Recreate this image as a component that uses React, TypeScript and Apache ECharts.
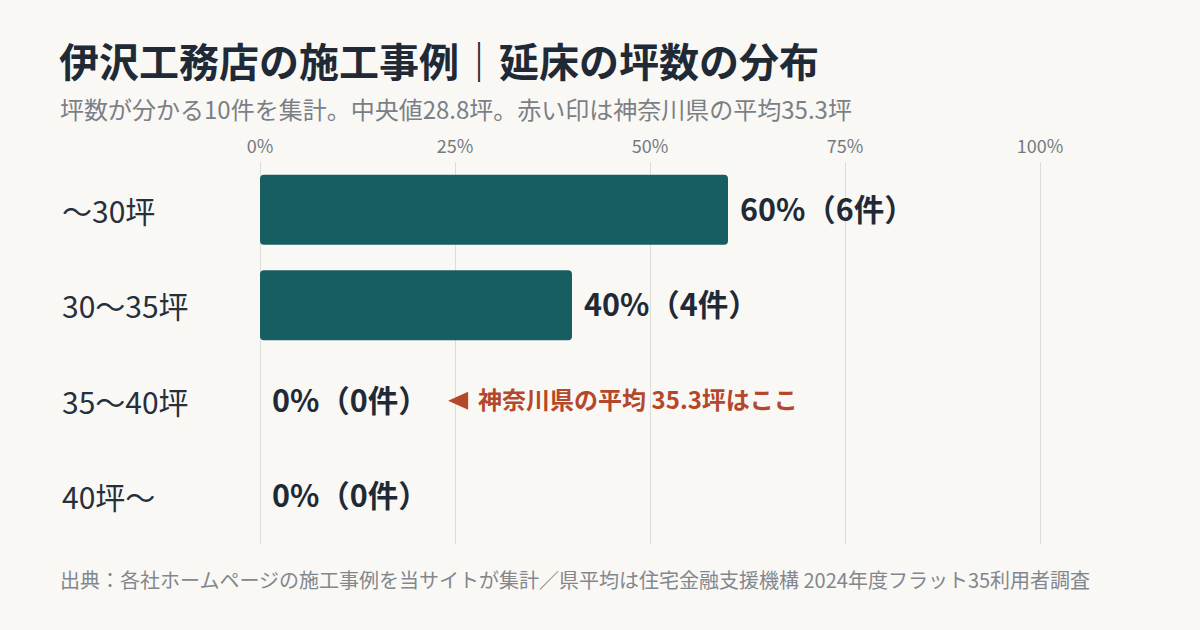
import React, { useEffect, useRef } from "react";
import * as echarts from "echarts";

const categories = ["〜30坪", "30〜35坪", "35〜40坪", "40坪〜"];
const percents = [60, 40, 0, 0];
const counts = [6, 4, 0, 0];
const xTicks = [0, 25, 50, 75, 100];

const titleText = "伊沢工務店の施工事例｜延床の坪数の分布";
const subtitleText = "坪数が分かる10件を集計。中央値28.8坪。赤い印は神奈川県の平均35.3坪";
const footnoteText =
  "出典：各社ホームページの施工事例を当サイトが集計／県平均は住宅金融支援機構 2024年度フラット35利用者調査";

const markerCategory = "35〜40坪";
const markerX = 25.4;
const markerText = "神奈川県の平均 35.3坪はここ";

const FONT = '"Noto Sans CJK JP", "Noto Sans", sans-serif';

export default function App() {
  const ref = useRef<HTMLDivElement>(null);

  useEffect(() => {
    document.body.style.margin = "0";
    if (!ref.current) return;
    const chart = echarts.init(ref.current, undefined, { renderer: "svg" });
    chart.setOption({
      animation: false,
      backgroundColor: "#f9f8f5",
      textStyle: { fontFamily: FONT },
      title: [
        {
          text: titleText,
          left: 54,
          top: 35,
          textStyle: { fontSize: 40, fontWeight: "bold", color: "#1f2a36", fontFamily: FONT },
        },
        {
          text: subtitleText,
          left: 55,
          top: 91,
          textStyle: { fontSize: 24, fontWeight: "normal", color: "#7b7f86", fontFamily: FONT },
        },
        {
          text: footnoteText,
          left: 55,
          top: 564,
          textStyle: { fontSize: 20, fontWeight: "normal", color: "#83878d", fontFamily: FONT },
        },
      ],
      grid: { left: 260, right: 160, top: 162, bottom: 86, containLabel: false },
      xAxis: {
        type: "value",
        position: "top",
        min: xTicks[0],
        max: xTicks[xTicks.length - 1],
        interval: 25,
        axisLine: { show: false },
        axisTick: { show: false },
        axisLabel: {
          formatter: "{value}%",
          color: "#757a82",
          fontSize: 18,
          margin: 8,
          fontFamily: FONT,
        },
        splitLine: { lineStyle: { color: "#dcdcd8", width: 1 } },
      },
      yAxis: {
        type: "category",
        data: categories,
        inverse: true,
        axisLine: { show: false },
        axisTick: { show: false },
        axisLabel: {
          align: "left",
          margin: 198,
          color: "#26303c",
          fontSize: 30,
          fontFamily: FONT,
        },
      },
      series: [
        {
          type: "bar",
          data: percents,
          barWidth: 70,
          itemStyle: { color: "#175e63", borderRadius: 4 },
          label: {
            show: true,
            position: "right",
            distance: 12,
            offset: [0, -2],
            formatter: (p: any) => `${percents[p.dataIndex]}%（${counts[p.dataIndex]}件）`,
            fontSize: 30.5,
            fontWeight: "bold",
            color: "#1f2a36",
            fontFamily: FONT,
          },
          silent: true,
        },
        {
          type: "scatter",
          data: [[markerX, markerCategory]],
          symbol: "triangle",
          symbolSize: [18, 20],
          symbolRotate: 90,
          itemStyle: { color: "#b5482a", opacity: 1 },
          label: {
            show: true,
            position: "right",
            distance: 10,
            offset: [0, -2],
            formatter: markerText,
            fontSize: 24,
            fontWeight: "bold",
            color: "#b5482a",
            fontFamily: FONT,
          },
          silent: true,
        },
      ],
    });
    return () => chart.dispose();
  }, []);

  return <div ref={ref} style={{ width: 1200, height: 630 }} />;
}
